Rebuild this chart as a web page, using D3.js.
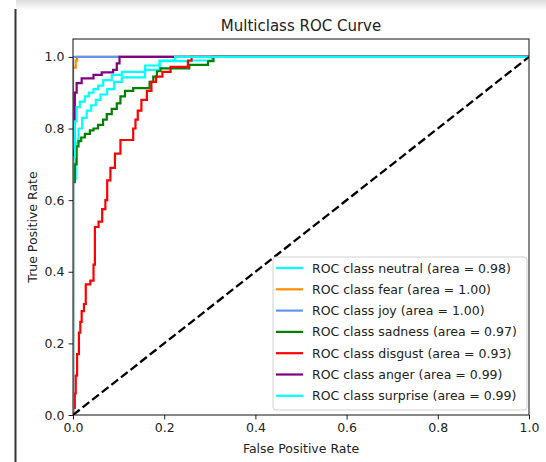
<!DOCTYPE html>
<html>
<head>
<meta charset="utf-8">
<script src="https://cdn.jsdelivr.net/npm/d3@7"></script>
<style>
    body { margin: 0; background: white; }
    text { font-family: "DejaVu Sans", sans-serif; }
</style>
</head>
<body>
<div id="canvas"></div>
<script>
"use strict"

/* Data: class names, areas and ROC points [fpr, tpr] */
let classNames = ["neutral", "fear", "joy", "sadness", "disgust", "anger", "surprise"];
let aucValues = [0.98, 1.00, 1.00, 0.97, 0.93, 0.99, 0.99];
let tickValues = [0, 0.2, 0.4, 0.6, 0.8, 1.0];

let neutralRoc = [[0, 0], [0, 0.66], [0.006, 0.66], [0.006, 0.76], [0.012, 0.76], [0.012, 0.8], [0.02, 0.8],
    [0.02, 0.83], [0.03, 0.83], [0.03, 0.85], [0.04, 0.85], [0.04, 0.865], [0.05, 0.865], [0.05, 0.88],
    [0.06, 0.88], [0.06, 0.895], [0.075, 0.895], [0.075, 0.91], [0.09, 0.91], [0.09, 0.93], [0.107, 0.93],
    [0.107, 0.943], [0.158, 0.943], [0.158, 0.964], [0.19, 0.964], [0.19, 0.988], [0.26, 0.988],
    [0.26, 0.99], [0.305, 0.99], [0.305, 1], [1, 1]];
let fearRoc = [[0, 0], [0, 0.97], [0.006, 0.97], [0.006, 0.99], [0.009, 0.99], [0.009, 1], [1, 1]];
let joyRoc = [[0, 0], [0, 1], [1, 1]];
let sadnessRoc = [[0, 0], [0, 0.65], [0.004, 0.65], [0.004, 0.7], [0.008, 0.7], [0.008, 0.75], [0.012, 0.75],
    [0.012, 0.765], [0.018, 0.765], [0.018, 0.775], [0.026, 0.775], [0.026, 0.785], [0.037, 0.785],
    [0.037, 0.795], [0.045, 0.795], [0.045, 0.8], [0.055, 0.8], [0.055, 0.81], [0.066, 0.81], [0.066, 0.825],
    [0.074, 0.825], [0.074, 0.84], [0.085, 0.84], [0.085, 0.855], [0.096, 0.855], [0.096, 0.87],
    [0.104, 0.87], [0.104, 0.89], [0.114, 0.89], [0.114, 0.905], [0.132, 0.905], [0.132, 0.913],
    [0.168, 0.913], [0.168, 0.93], [0.176, 0.93], [0.176, 0.945], [0.184, 0.945], [0.184, 0.96],
    [0.192, 0.96], [0.192, 0.968], [0.255, 0.968], [0.255, 0.978], [0.296, 0.978], [0.296, 0.988],
    [0.308, 0.988], [0.308, 1], [1, 1]];
let disgustRoc = [[0, 0], [0, 0.02], [0.004, 0.02], [0.004, 0.06], [0.006, 0.06], [0.006, 0.11], [0.009, 0.11],
    [0.009, 0.17], [0.013, 0.17], [0.013, 0.23], [0.016, 0.23], [0.016, 0.26], [0.019, 0.26], [0.019, 0.29],
    [0.024, 0.29], [0.024, 0.31], [0.028, 0.31], [0.028, 0.365], [0.038, 0.365], [0.038, 0.375],
    [0.045, 0.375], [0.045, 0.42], [0.048, 0.42], [0.048, 0.525], [0.056, 0.525], [0.056, 0.54],
    [0.064, 0.54], [0.064, 0.575], [0.071, 0.575], [0.071, 0.6], [0.075, 0.6], [0.075, 0.655],
    [0.082, 0.655], [0.082, 0.69], [0.092, 0.69], [0.092, 0.73], [0.104, 0.73], [0.104, 0.768],
    [0.132, 0.768], [0.132, 0.8], [0.137, 0.8], [0.137, 0.825], [0.142, 0.825], [0.142, 0.85],
    [0.15, 0.85], [0.15, 0.88], [0.162, 0.88], [0.162, 0.905], [0.172, 0.905], [0.172, 0.93],
    [0.182, 0.93], [0.182, 0.945], [0.196, 0.945], [0.196, 0.958], [0.214, 0.958], [0.214, 0.972],
    [0.252, 0.972], [0.252, 0.99], [0.26, 0.99], [0.26, 1], [1, 1]];
let angerRoc = [[0, 0], [0, 0.74], [0.004, 0.74], [0.004, 0.9], [0.008, 0.9], [0.008, 0.927], [0.019, 0.927],
    [0.019, 0.94], [0.045, 0.94], [0.045, 0.95], [0.063, 0.95], [0.063, 0.957], [0.088, 0.957],
    [0.088, 0.964], [0.096, 0.964], [0.096, 0.982], [0.102, 0.982], [0.102, 1], [1, 1]];
let surpriseRoc = [[0, 0], [0, 0.72], [0.004, 0.72], [0.004, 0.82], [0.008, 0.82], [0.008, 0.86], [0.015, 0.86],
    [0.015, 0.875], [0.026, 0.875], [0.026, 0.89], [0.035, 0.89], [0.035, 0.9], [0.045, 0.9], [0.045, 0.91],
    [0.055, 0.91], [0.055, 0.92], [0.066, 0.92], [0.066, 0.935], [0.085, 0.935], [0.085, 0.95],
    [0.107, 0.95], [0.107, 0.958], [0.158, 0.958], [0.158, 0.976], [0.19, 0.976], [0.19, 0.99],
    [0.224, 0.99], [0.224, 1], [1, 1]];

let rocCurves = [neutralRoc, fearRoc, joyRoc, sadnessRoc, disgustRoc, angerRoc, surpriseRoc];

/* Style */
let lineColors = ["aqua", "darkorange", "cornflowerblue", "green", "red", "purple", "cyan"];
let svgWidth = 546;
let svgHeight = 462;
let plotLeft = 73;
let plotRight = 529;
let plotTop = 39;
let plotBottom = 415;
let fontSize = 12.5;

/* Create drawing canvas */
let svg = d3.select("#canvas")
    .append("svg")
    .attr("width", svgWidth)
    .attr("height", svgHeight);

/* Screenshot edges: soft top shadow and dark left border */
let defs = svg.append("defs");
let shadow = defs.append("linearGradient")
    .attr("id", "topShadow")
    .attr("x1", 0).attr("y1", 0).attr("x2", 0).attr("y2", 1);
shadow.append("stop").attr("offset", "0%").attr("stop-color", "#dcdcdc");
shadow.append("stop").attr("offset", "100%").attr("stop-color", "#ffffff");

svg.append("rect")
    .attr("x", 16)
    .attr("y", 0)
    .attr("width", svgWidth - 16)
    .attr("height", 10)
    .attr("fill", "url(#topShadow)");

svg.append("line")
    .attr("x1", 15.5).attr("x2", 15.5)
    .attr("y1", 9).attr("y2", svgHeight)
    .attr("stroke", "#333")
    .attr("stroke-width", 2);

/* Scales */
let xScale = d3.scaleLinear()
    .domain([0, 1])
    .range([plotLeft, plotRight]);

let yScale = d3.scaleLinear()
    .domain([0, 1.05])
    .range([plotBottom, plotTop]);

defs.append("clipPath")
    .attr("id", "plotClip")
    .append("rect")
    .attr("x", plotLeft)
    .attr("y", plotTop)
    .attr("width", plotRight - plotLeft)
    .attr("height", plotBottom - plotTop);

/* ROC curves */
let rocLine = d3.line()
    .x(function (d) { return xScale(d[0]); })
    .y(function (d) { return yScale(d[1]); });

let curveGroup = svg.append("g")
    .attr("clip-path", "url(#plotClip)");

curveGroup.selectAll("path.roc")
    .data(rocCurves)
    .join("path")
    .attr("class", "roc")
    .attr("d", rocLine)
    .attr("fill", "none")
    .attr("stroke", function (d, i) { return lineColors[i]; })
    .attr("stroke-width", 2.2)
    .attr("stroke-linejoin", "miter");

/* Chance diagonal */
curveGroup.append("path")
    .attr("d", rocLine([[0, 0], [1, 1]]))
    .attr("fill", "none")
    .attr("stroke", "black")
    .attr("stroke-width", 2.3)
    .attr("stroke-dasharray", "8.5,3.7");

/* Axes */
let xAxis = svg.append("g")
    .attr("transform", "translate(0," + plotBottom + ")")
    .call(d3.axisBottom(xScale)
        .tickValues(tickValues)
        .tickFormat(d3.format(".1f"))
        .tickSize(4.5)
        .tickPadding(4)
        .tickSizeOuter(0));

let yAxis = svg.append("g")
    .attr("transform", "translate(" + plotLeft + ",0)")
    .call(d3.axisLeft(yScale)
        .tickValues(tickValues)
        .tickFormat(d3.format(".1f"))
        .tickSize(4.5)
        .tickPadding(4)
        .tickSizeOuter(0));

svg.selectAll(".domain").remove();
svg.selectAll(".tick text")
    .attr("font-family", "DejaVu Sans")
    .attr("font-size", fontSize)
    .attr("fill", "#222");
svg.selectAll(".tick line")
    .attr("stroke", "#222");

/* Frame */
svg.append("rect")
    .attr("x", plotLeft)
    .attr("y", plotTop)
    .attr("width", plotRight - plotLeft)
    .attr("height", plotBottom - plotTop)
    .attr("fill", "none")
    .attr("stroke", "#111")
    .attr("stroke-width", 1);

/* Title and axis labels */
svg.append("text")
    .attr("x", (plotLeft + plotRight) / 2)
    .attr("y", 31)
    .attr("text-anchor", "middle")
    .attr("font-size", 15)
    .attr("fill", "#222")
    .text("Multiclass ROC Curve");

svg.append("text")
    .attr("x", (plotLeft + plotRight) / 2)
    .attr("y", 453)
    .attr("text-anchor", "middle")
    .attr("font-size", fontSize)
    .attr("fill", "#222")
    .text("False Positive Rate");

svg.append("text")
    .attr("transform", "translate(37," + ((plotTop + plotBottom) / 2) + ") rotate(-90)")
    .attr("text-anchor", "middle")
    .attr("font-size", fontSize)
    .attr("fill", "#222")
    .text("True Positive Rate");

/* Legend */
let legendX = 273;
let legendY = 257;
let rowHeight = 21.3;

let legend = svg.append("g");

legend.append("rect")
    .attr("x", legendX)
    .attr("y", legendY)
    .attr("width", 254)
    .attr("height", 153)
    .attr("rx", 3)
    .attr("fill", "white")
    .attr("fill-opacity", 0.8)
    .attr("stroke", "#d0d0d0");

let rows = legend.selectAll("g.row")
    .data(classNames)
    .join("g")
    .attr("class", "row")
    .attr("transform", function (d, i) {
        return "translate(" + legendX + "," + (legendY + 11 + i * rowHeight) + ")";
    });

rows.append("line")
    .attr("x1", 3)
    .attr("x2", 30)
    .attr("stroke", function (d, i) { return lineColors[i]; })
    .attr("stroke-width", 2.2);

rows.append("text")
    .attr("x", 39)
    .attr("dy", "0.36em")
    .attr("font-size", fontSize)
    .attr("fill", "#222")
    .text(function (d, i) {
        return "ROC class " + d + " (area = " + aucValues[i].toFixed(2) + ")";
    });
</script>
</body>
</html>
